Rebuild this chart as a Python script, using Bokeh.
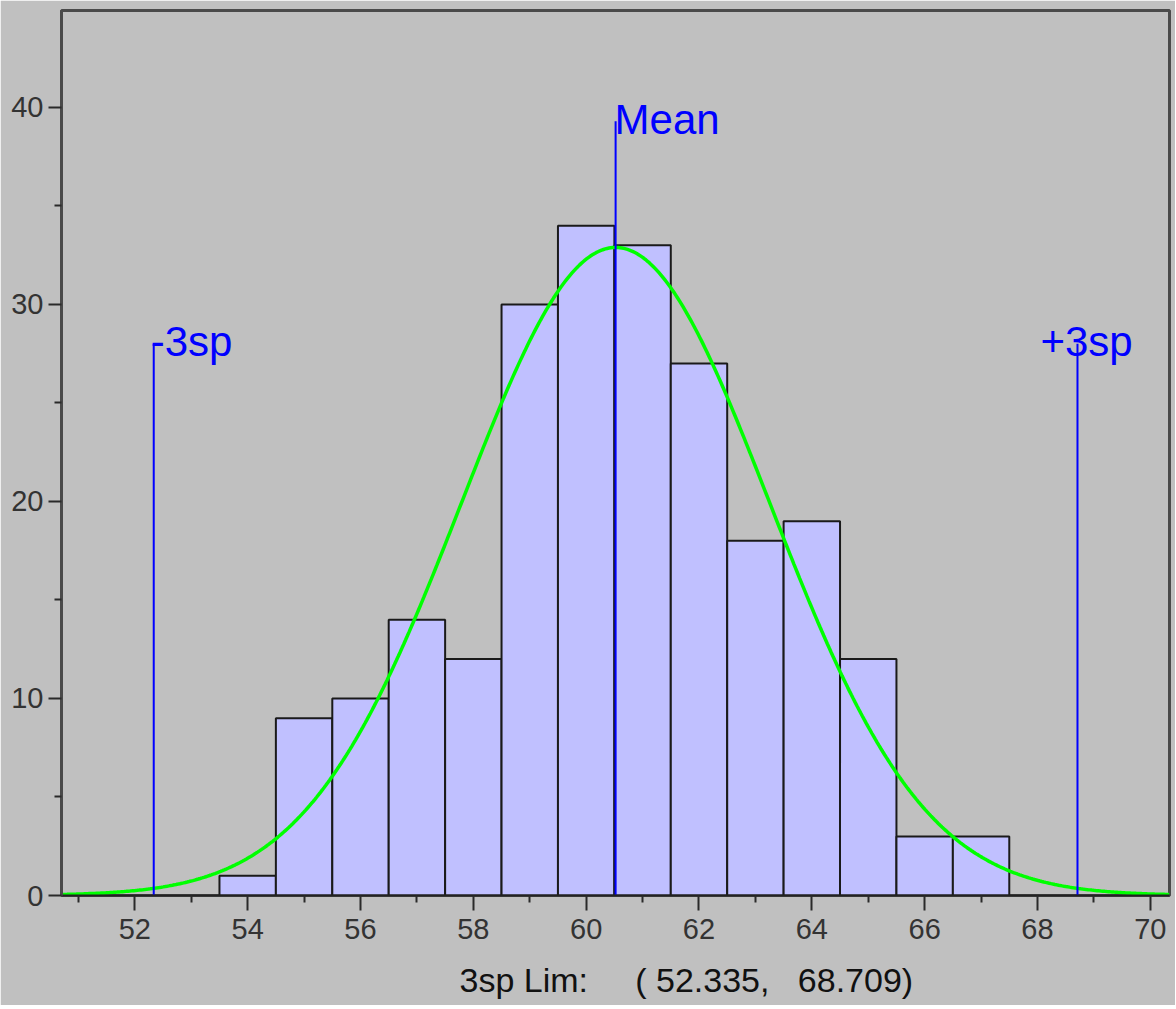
from bokeh.plotting import figure
from bokeh.models import Range1d, FixedTicker, Label
from bokeh.embed import file_html
from bokeh.resources import INLINE
import numpy as np

# ---- data ----
bin_centers = [54, 55, 56, 57, 58, 59, 60, 61, 62, 63, 64, 65, 66, 67]
counts = [1, 9, 10, 14, 12, 30, 34, 33, 27, 18, 19, 12, 3, 3]
lim_low = 52.335
lim_high = 68.709
x_ticks = [52, 54, 56, 58, 60, 62, 64, 66, 68, 70]
x_minor = [51, 53, 55, 57, 59, 61, 63, 65, 67, 69]
y_ticks = [0, 10, 20, 30, 40]
y_minor = [5, 15, 25, 35, 45]
mean_line_top = 39.3
sp_line_top = 28.0

mean = (lim_low + lim_high) / 2.0
sp = (lim_high - lim_low) / 6.0
n_total = sum(counts)
bin_width = 1.0

BG = "#c0c0c0"
FONT = "Liberation Sans"
NB = "\u00a0"
x_label = (NB * 15 + "3sp Lim:" + NB * 5 + "(" + NB + "52.335," + NB * 3 + "68.709)")

X0, X1 = 50.70, 70.34
p = figure(frame_width=1108, frame_height=885, output_backend="svg",
           toolbar_location=None,
           x_range=Range1d(X0, X1), y_range=Range1d(0, 44.92),
           min_border_left=61, min_border_top=10, min_border_right=6,
           min_border_bottom=110)
p.background_fill_color = BG
p.border_fill_color = BG
p.outline_line_color = "#4a4a4a"
p.outline_line_width = 3
p.xgrid.visible = False
p.ygrid.visible = False

# histogram bars
p.quad(left=[c - bin_width / 2 for c in bin_centers],
       right=[c + bin_width / 2 for c in bin_centers],
       bottom=0, top=counts,
       fill_color="#c0c0ff", line_color="#1a1a1a", line_width=2)

# fitted normal curve (from the displayed 3sp limits)
xs = np.linspace(X0, X1, 600)
ys = n_total * bin_width / (sp * np.sqrt(2 * np.pi)) * np.exp(-0.5 * ((xs - mean) / sp) ** 2)
p.line(xs, ys, line_color="#00ff00", line_width=3.5)

# vertical reference lines
p.segment(x0=[lim_low, mean, lim_high], y0=[0, 0, 0],
          x1=[lim_low, mean, lim_high], y1=[sp_line_top, mean_line_top, sp_line_top],
          line_color="#0000ff", line_width=2)

for txt, xx, yy, xo in [("-3sp", lim_low, sp_line_top, -3),
                        ("Mean", mean, mean_line_top, -1),
                        ("+3sp", lim_high, sp_line_top, -37)]:
    p.add_layout(Label(x=xx, y=yy, text=txt, x_offset=xo, y_offset=2,
                       text_font=FONT, text_font_size="42px",
                       text_color="#0000ff", text_baseline="alphabetic"))

# axes
p.xaxis.ticker = FixedTicker(ticks=x_ticks, minor_ticks=x_minor)
p.yaxis.ticker = FixedTicker(ticks=y_ticks, minor_ticks=y_minor)
for ax in (p.xaxis, p.yaxis):
    ax.major_label_text_font = FONT
    ax.major_label_text_font_size = "29px"
    ax.major_label_text_color = "#333333"
    ax.major_tick_line_color = "#2a2a2a"
    ax.major_tick_line_width = 2
    ax.minor_tick_line_color = "#2a2a2a"
    ax.minor_tick_line_width = 2
    ax.major_tick_in = 0
    ax.minor_tick_in = 0
p.xaxis.major_tick_out = 15
p.xaxis.minor_tick_out = 7
p.xaxis.axis_line_color = "#222222"
p.xaxis.axis_line_width = 2
p.xaxis.major_label_standoff = 8
p.xaxis.axis_label = x_label
p.xaxis.axis_label_text_font = FONT
p.xaxis.axis_label_text_font_size = "34px"
p.xaxis.axis_label_text_font_style = "normal"
p.xaxis.axis_label_text_color = "#111111"
p.xaxis.axis_label_standoff = 19
p.yaxis.major_tick_out = 13
p.yaxis.minor_tick_out = 7
p.yaxis.axis_line_color = "#4a4a4a"
p.yaxis.axis_line_width = 3
p.yaxis.major_label_standoff = 5

open("out.html", "w").write(file_html(p, INLINE))
